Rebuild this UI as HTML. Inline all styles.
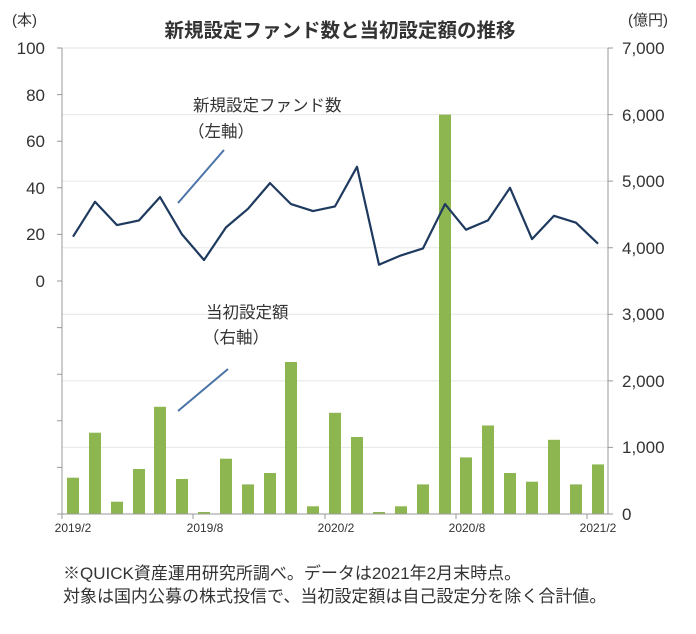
<!DOCTYPE html>
<html><head><meta charset="utf-8"><style>
body{margin:0;background:#fff}
text{font-family:"Liberation Sans","Noto Sans CJK JP",sans-serif;fill:#333}
</style></head><body>
<svg width="696" height="629" viewBox="0 0 696 629" xmlns="http://www.w3.org/2000/svg">
<rect width="696" height="629" fill="#fff"/>
<text x="340" y="37" font-size="19.5" font-weight="bold" text-anchor="middle" fill="#222">新規設定ファンド数と当初設定額の推移</text>
<text x="12" y="25" font-size="15">(本)</text>
<text x="628" y="25" font-size="15">(億円)</text>
<g stroke="#e6e6e6" stroke-width="1">
<line x1="62" x2="608" y1="48" y2="48"/><line x1="62" x2="608" y1="114.6" y2="114.6"/><line x1="62" x2="608" y1="181.1" y2="181.1"/><line x1="62" x2="608" y1="247.7" y2="247.7"/><line x1="62" x2="608" y1="314.3" y2="314.3"/><line x1="62" x2="608" y1="380.9" y2="380.9"/><line x1="62" x2="608" y1="447.4" y2="447.4"/>
</g>
<g fill="#8db650">
<rect x="67" y="477.7" width="12" height="36.3"/><rect x="89" y="432.7" width="12" height="81.3"/><rect x="111" y="501.7" width="12" height="12.3"/><rect x="133" y="469" width="12" height="45"/><rect x="154" y="406.8" width="12" height="107.2"/><rect x="176" y="479" width="12" height="35"/><rect x="198" y="512" width="12" height="2"/><rect x="220" y="458.7" width="12" height="55.3"/><rect x="242" y="484.4" width="12" height="29.6"/><rect x="264" y="473" width="12" height="41"/><rect x="285" y="362" width="12" height="152"/><rect x="307" y="506.3" width="12" height="7.7"/><rect x="329" y="412.8" width="12" height="101.2"/><rect x="351" y="437" width="12" height="77"/><rect x="373" y="512" width="12" height="2"/><rect x="395" y="506.3" width="12" height="7.7"/><rect x="417" y="484.4" width="12" height="29.6"/><rect x="439" y="114.6" width="12" height="399.4"/><rect x="460" y="457.4" width="12" height="56.6"/><rect x="482" y="425.5" width="12" height="88.5"/><rect x="504" y="473" width="12" height="41"/><rect x="526" y="481.7" width="12" height="32.3"/><rect x="548" y="439.8" width="12" height="74.2"/><rect x="570" y="484.4" width="12" height="29.6"/><rect x="592" y="464.4" width="12" height="49.6"/>
</g>
<g stroke="#999" stroke-width="1" fill="none">
<line x1="62" x2="62" y1="48" y2="514"/><line x1="608" x2="608" y1="48" y2="514"/><line x1="62" x2="608" y1="514" y2="514"/>
<path d="M57 48h5M57 94.6h5M57 141.2h5M57 187.8h5M57 234.4h5M57 281h5M57 327.6h5M57 374.2h5M57 420.8h5M57 467.4h5M57 514h5"/>
<path d="M608 48h5M608 114.6h5M608 181.1h5M608 247.7h5M608 314.3h5M608 380.9h5M608 447.4h5M608 514h5"/>
<path d="M62 514v5M193 514v5M325 514v5M456 514v5M587 514v5"/>
</g>
<polyline fill="none" stroke="#1f3a5f" stroke-width="2.2" stroke-linejoin="round" points="73,236.7 95,201.8 117,225.1 139,220.4 160,197.1 182,234.4 204,260 226,227.4 248,208.8 270,183.1 291,204.1 313,211.1 335,206.4 357,166.8 379,264.7 401,255.4 423,248.4 445,204.1 466,229.7 488,220.4 510,187.8 532,239.1 554,215.8 576,222.7 598,243.7"/>
<g font-size="17" text-anchor="end">
<text x="45" y="54">100</text><text x="45" y="101">80</text><text x="45" y="147">60</text><text x="45" y="194">40</text><text x="45" y="240">20</text><text x="45" y="287">0</text>
</g>
<g font-size="17">
<text x="622" y="54">7,000</text><text x="622" y="121">6,000</text><text x="622" y="187">5,000</text><text x="622" y="254">4,000</text><text x="622" y="320">3,000</text><text x="622" y="387">2,000</text><text x="622" y="453">1,000</text><text x="622" y="520">0</text>
</g>
<g font-size="12" text-anchor="middle">
<text x="73" y="532">2019/2</text><text x="205" y="532">2019/8</text><text x="336" y="532">2020/2</text><text x="467" y="532">2020/8</text><text x="598" y="532">2021/2</text>
</g>
<g font-size="16.5">
<text x="193" y="111">新規設定ファンド数</text><text x="188" y="137">（左軸）</text>
<text x="206" y="318">当初設定額</text><text x="203" y="343">（右軸）</text>
</g>
<line x1="224" y1="150" x2="178" y2="203" stroke="#4a74a8" stroke-width="2"/>
<line x1="228" y1="369" x2="178" y2="411" stroke="#4a74a8" stroke-width="2"/>
<g font-size="17">
<text x="63" y="579">※QUICK資産運用研究所調べ。データは2021年2月末時点。</text>
<text x="63" y="602">対象は国内公募の株式投信で、当初設定額は自己設定分を除く合計値。</text>
</g>
</svg>
</body></html>
